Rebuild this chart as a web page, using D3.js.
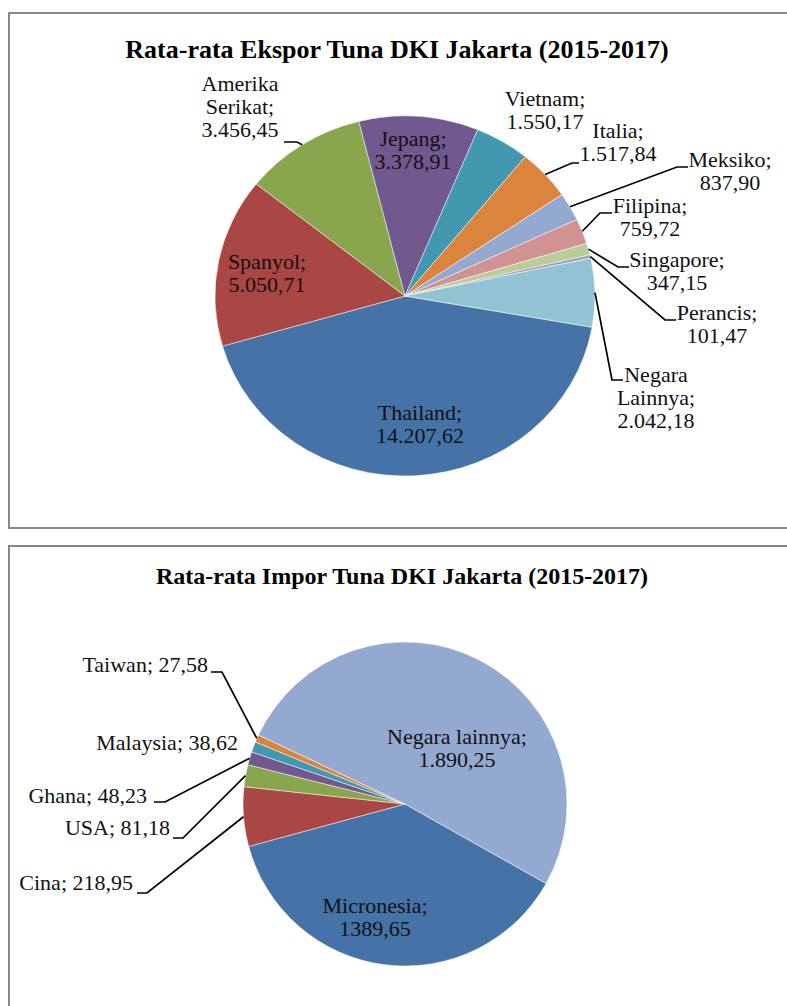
<!DOCTYPE html>
<html>
<head>
<meta charset="utf-8">
<script src="https://cdn.jsdelivr.net/npm/d3@7"></script>
<style>
  body { margin: 0; background: #fff; }
</style>
</head>
<body>
<svg width="787" height="1006"></svg>
<script>
// data
const exportCountries = ['Thailand', 'Spanyol', 'Amerika Serikat', 'Jepang', 'Vietnam', 'Italia',
  'Meksiko', 'Filipina', 'Singapore', 'Perancis', 'Negara Lainnya'];
const exportValues = [14207.62, 5050.71, 3456.45, 3378.91, 1550.17, 1517.84, 837.90, 759.72, 347.15, 101.47, 2042.18];
const exportColors = ['#4572A7', '#AA4643', '#89A54E', '#71588F', '#4198AF', '#DB843D',
  '#93A9CF', '#D19392', '#B9CD96', '#A99BBD', '#92C3D4'];

const importCountries = ['Micronesia', 'Cina', 'USA', 'Ghana', 'Malaysia', 'Taiwan', 'Negara lainnya'];
const importValues = [1389.65, 218.95, 81.18, 48.23, 38.62, 27.58, 1890.25];
const importColors = ['#4572A7', '#AA4643', '#89A54E', '#71588F', '#4198AF', '#DB843D', '#93A9CF'];
const noGrouping = ['Micronesia'];   // value printed without thousands dot in source

// label placement (first baseline, anchor, leader elbow + end)
const exportLayout = {
  'Thailand':        { x: 420, y: 420, lines: ['Thailand;'] },
  'Spanyol':         { x: 267, y: 269, lines: ['Spanyol;'] },
  'Amerika Serikat': { x: 240, y: 91,  lines: ['Amerika', 'Serikat;'], leader: [[297, 142], [284, 142]] },
  'Jepang':          { x: 413, y: 146, lines: ['Jepang;'] },
  'Vietnam':         { x: 545, y: 106, lines: ['Vietnam;'] },
  'Italia':          { x: 618, y: 138, lines: ['Italia;'], leader: [[572, 163], [579, 163]] },
  'Meksiko':         { x: 730, y: 167, lines: ['Meksiko;'], leader: [[677, 167], [688, 167]] },
  'Filipina':        { x: 650, y: 213, lines: ['Filipina;'], leader: [[600, 213], [612, 213]] },
  'Singapore':       { x: 677, y: 267, lines: ['Singapore;'], leader: [[618, 267], [629, 267]] },
  'Perancis':        { x: 717, y: 320, lines: ['Perancis;'], leader: [[665, 320], [676, 320]] },
  'Negara Lainnya':  { x: 656, y: 382, lines: ['Negara', 'Lainnya;'], leader: [[612, 380], [623, 380]] }
};
const importLayout = {
  'Micronesia':     { x: 375, y: 913, anchor: 'middle' },
  'Cina':           { x: 133, y: 890, anchor: 'end', leader: [[147, 893], [137, 893]] },
  'USA':            { x: 170, y: 835, anchor: 'end', leader: [[183, 838], [173, 838]] },
  'Ghana':          { x: 147, y: 803, anchor: 'end', leader: [[165, 802], [154, 802]] },
  'Malaysia':       { x: 238, y: 750, anchor: 'end' },
  'Taiwan':         { x: 208, y: 672, anchor: 'end', leader: [[222, 672], [211, 672]] },
  'Negara lainnya': { x: 457, y: 744, anchor: 'middle' }
};

const serif = "'Liberation Serif', 'Times New Roman', Times, serif";
const idLocale = d3.formatLocale({ decimal: ',', thousands: '.', grouping: [3], currency: ['', ''] });
const fmt = idLocale.format(',.2f');
const fmtPlain = idLocale.format('.2f');

const svg = d3.select('svg');
const deg = Math.PI / 180;
const lineH = 23;

// frames
svg.append('rect').attr('x', 9).attr('y', 13).attr('width', 800).attr('height', 515)
  .attr('fill', 'none').attr('stroke', '#878787').attr('stroke-width', 2);
svg.append('rect').attr('x', 9).attr('y', 546).attr('width', 800).attr('height', 500)
  .attr('fill', 'none').attr('stroke', '#878787').attr('stroke-width', 2);

// titles
svg.append('text').attr('x', 397).attr('y', 58)
  .style('font-family', serif).attr('text-anchor', 'middle')
  .attr('font-size', 26).attr('font-weight', 'bold')
  .text('Rata-rata Ekspor Tuna DKI Jakarta (2015-2017)');
svg.append('text').attr('x', 402).attr('y', 584)
  .style('font-family', serif).attr('text-anchor', 'middle')
  .attr('font-size', 24).attr('font-weight', 'bold')
  .text('Rata-rata Impor Tuna DKI Jakarta (2015-2017)');

function drawPie(cfg) {
  const data = cfg.countries.map((c, i) => ({ name: c, value: cfg.values[i], color: cfg.colors[i] }));
  const pie = d3.pie().sort(null).value(d => d.value)
    .startAngle(cfg.start * deg).endAngle(cfg.start * deg + 2 * Math.PI);
  const arcs = pie(data);
  const arc = d3.arc().innerRadius(0).outerRadius(cfg.rx);
  const sy = cfg.ry / cfg.rx;

  const g = svg.append('g')
    .attr('transform', `translate(${cfg.cx}, ${cfg.cy}) scale(1, ${sy})`);
  g.selectAll('path').data(arcs).enter().append('path')
    .attr('d', arc)
    .attr('fill', d => d.data.color)
    .attr('stroke', '#fff')
    .attr('stroke-width', 0.5)
    .attr('vector-effect', 'non-scaling-stroke');

  arcs.forEach(a => {
    const L = cfg.layout[a.data.name];
    const mid = (a.startAngle + a.endAngle) / 2;
    const edge = [cfg.cx + cfg.rx * Math.sin(mid), cfg.cy - cfg.ry * Math.cos(mid)];
    if (L.leader) {
      svg.append('path')
        .attr('d', d3.line()([edge, ...L.leader]))
        .attr('fill', 'none').attr('stroke', '#000').attr('stroke-width', 1.7);
    }
    const valText = noGrouping.includes(a.data.name) ? fmtPlain(a.data.value) : fmt(a.data.value);
    let lines;
    if (L.lines) lines = [...L.lines, valText];
    else if (L.anchor === 'middle') lines = [a.data.name + ';', valText];
    else lines = [a.data.name + '; ' + valText];
    const t = svg.append('text')
      .style('font-family', serif)
      .attr('fill', '#111')
      .attr('font-size', 22)
      .attr('text-anchor', L.anchor || 'middle');
    lines.forEach((s, i) => {
      t.append('tspan').attr('x', L.x).attr('y', L.y + i * lineH).text(s);
    });
  });
}

drawPie({ countries: exportCountries, values: exportValues, colors: exportColors,
  layout: exportLayout, cx: 405, cy: 296, rx: 190, ry: 180, start: 100 });
drawPie({ countries: importCountries, values: importValues, colors: importColors,
  layout: importLayout, cx: 405, cy: 804, rx: 162, ry: 162, start: 119.4 });
</script>
</body>
</html>
